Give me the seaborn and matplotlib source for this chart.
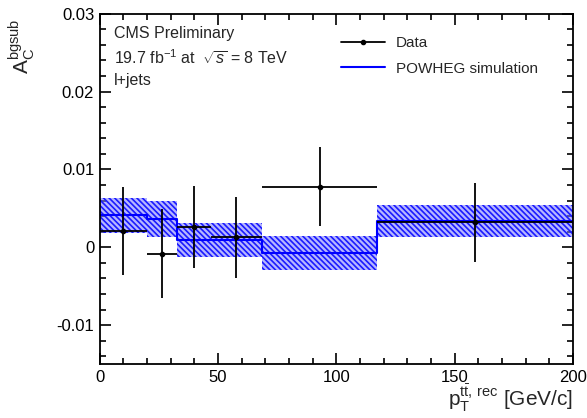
import numpy as np
import pandas as pd
import matplotlib
matplotlib.use("Agg")
import matplotlib.pyplot as plt
from matplotlib.lines import Line2D
from matplotlib.ticker import MultipleLocator, FuncFormatter
import seaborn as sns

# ---------------------------------------------------------------------------
# Data
# ---------------------------------------------------------------------------
BIN_EDGES = [0, 20, 32.5, 47, 68.5, 117, 200]
DATA_X = [9.8, 26.5, 39.8, 57.4, 93.0, 158.6]
DATA_Y = [0.0021, -0.0008, 0.0026, 0.0013, 0.0078, 0.0032]
DATA_YERR = [0.0057, 0.0057, 0.0053, 0.0052, 0.0051, 0.0051]
SIM_Y = [0.0041, 0.0036, 0.0009, 0.0009, -0.0007, 0.0034]
SIM_ERR = [0.0022, 0.0023, 0.0022, 0.0022, 0.0022, 0.0021]

sns.set_theme(style="ticks")
plt.rcParams["font.family"] = ["Liberation Sans", "DejaVu Sans"]
plt.rcParams["mathtext.fontset"] = "custom"
plt.rcParams["mathtext.rm"] = "Liberation Sans"
plt.rcParams["mathtext.it"] = "Liberation Sans:italic"
plt.rcParams["axes.unicode_minus"] = False
plt.rcParams["hatch.linewidth"] = 1.2


def main():
    edges = np.array(BIN_EDGES)
    lo = edges[:-1]
    hi = edges[1:]
    sim = np.array(SIM_Y)
    err = np.array(SIM_ERR)

    # step arrays (last value repeated for steps-post)
    sim_step = np.append(sim, sim[-1])
    err_step = np.append(err, err[-1])
    df_sim = pd.DataFrame({"x": edges, "y": sim_step})

    fig = plt.figure(figsize=(5.87, 4.18), dpi=100)
    ax = fig.add_axes([0.170, 0.129, 0.806, 0.838])

    # simulation uncertainty band (hatched, ROOT style)
    ax.fill_between(edges, sim_step - err_step, sim_step + err_step, step="post",
                    facecolor="#7a7aff", alpha=0.55, linewidth=0, zorder=1)
    ax.fill_between(edges, sim_step - err_step, sim_step + err_step, step="post",
                    facecolor="none", edgecolor="#1a1aff", hatch="\\\\\\\\\\\\",
                    linewidth=0, zorder=1)

    sns.lineplot(data=df_sim, x="x", y="y", drawstyle="steps-post", color="#0000ff",
                 linewidth=1.5, ax=ax, zorder=2, estimator=None, sort=False,
                 legend=False)

    # data points
    x = np.array(DATA_X)
    ax.errorbar(x, DATA_Y, yerr=DATA_YERR, xerr=[x - lo, hi - x], fmt="o",
                color="black", markersize=3, elinewidth=1.3, capsize=0, zorder=3)

    ax.set_xlim(0, 200)
    ax.set_ylim(-0.015, 0.03)
    ax.xaxis.set_major_locator(MultipleLocator(50))
    ax.xaxis.set_minor_locator(MultipleLocator(10))
    ax.yaxis.set_major_locator(MultipleLocator(0.01))
    ax.yaxis.set_minor_locator(MultipleLocator(0.002))
    ax.yaxis.set_major_formatter(FuncFormatter(lambda v, p: f"{v:g}" if abs(v) > 1e-9 else "0"))
    ax.tick_params(which="both", direction="in", top=True, right=True, labelsize=12,
                   width=1.2, colors="black")
    ax.tick_params(which="major", length=8, pad=4)
    ax.tick_params(which="minor", length=4.5)
    for s in ax.spines.values():
        s.set_linewidth(1.3)
        s.set_color("black")

    ax.set_xlabel(r"$\mathrm{p_{T}^{t\bar{t},\,rec}}$ [GeV/c]", fontsize=15,
                  loc="right", labelpad=-1)
    ax.set_ylabel(r"$\mathrm{A_{C}^{bgsub}}$", fontsize=15, rotation=90)
    ax.yaxis.set_label_coords(-0.165, 0.985)
    ax.yaxis.label.set_horizontalalignment("right")
    ax.yaxis.label.set_verticalalignment("center")

    ax.text(0.03, 0.945, "CMS Preliminary", transform=ax.transAxes, fontsize=11.5,
            va="center")
    ax.text(0.03, 0.875, r"19.7 fb$^{-1}$ at  $\sqrt{s}$ = 8 TeV",
            transform=ax.transAxes, fontsize=11.5, va="center")
    ax.text(0.03, 0.81, "l+jets", transform=ax.transAxes, fontsize=11.5, va="center")

    h_data = Line2D([], [], color="black", linewidth=1.3, marker="o", markersize=3)
    h_sim = Line2D([], [], color="#0000ff", linewidth=1.5)
    ax.legend([h_data, h_sim], ["Data", "POWHEG simulation"],
              loc="upper left", bbox_to_anchor=(0.48, 0.975), frameon=False,
              fontsize=11, handlelength=2.9, handletextpad=0.7, labelspacing=0.75)

    fig.savefig("out.png", dpi=100)
    plt.close(fig)


if __name__ == "__main__":
    main()
